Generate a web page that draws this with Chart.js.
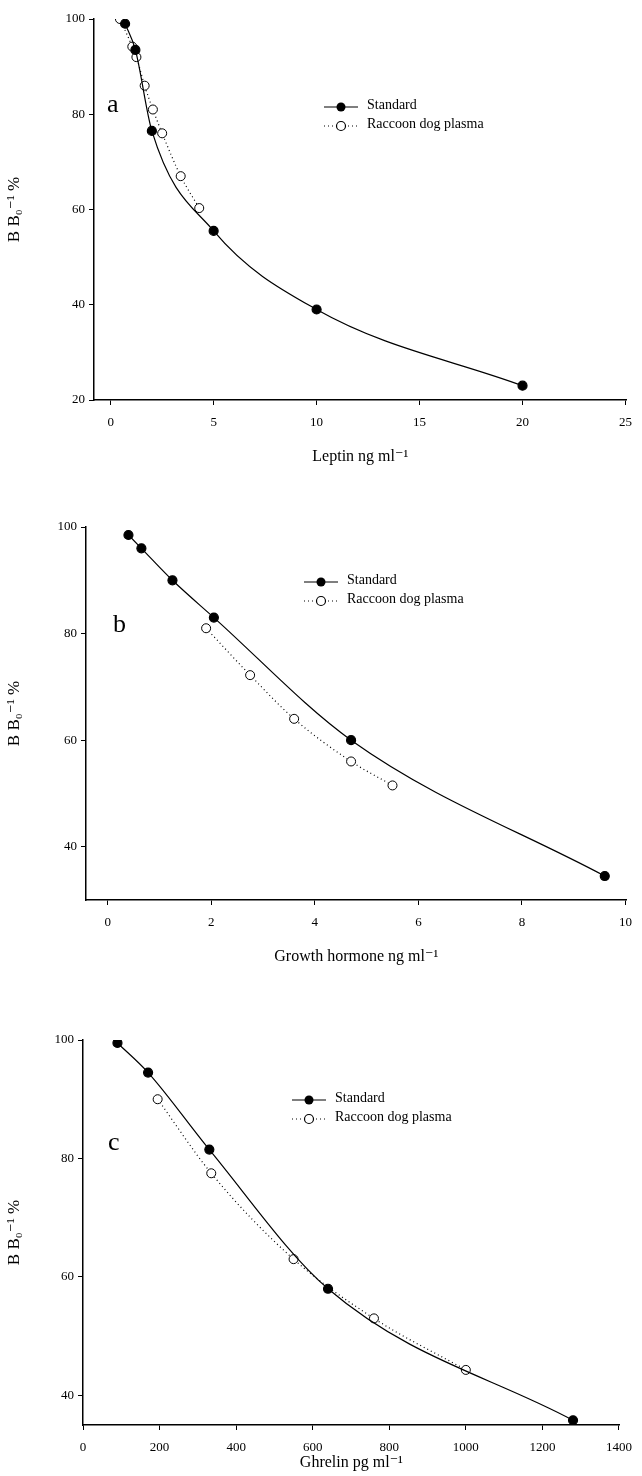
<!DOCTYPE html>
<html>
<head>
<meta charset="utf-8">
<script src="https://cdn.jsdelivr.net/npm/chart.js@4"></script>
<style>
  body { margin: 0; background: #fff; }
  .panel { position: absolute; left: 0; width: 642px; }
</style>
</head>
<body>
<div class="panel" style="top:0;height:470px"><canvas id="chartA"></canvas></div>
<div class="panel" style="top:470px;height:500px"><canvas id="chartB"></canvas></div>
<div class="panel" style="top:970px;height:506px"><canvas id="chartC"></canvas></div>
<script>
// panel a - leptin
const leptinStdX = [0.7, 1.2, 2.0, 5.0, 10, 20]
const leptinStdY = [99, 93.5, 76.5, 55.5, 39, 23]
const leptinRdX = [0.45, 1.05, 1.25, 1.65, 2.05, 2.5, 3.4, 4.3]
const leptinRdY = [100, 94.2, 92, 86, 81, 76, 67, 60.3]

// panel b - growth hormone
const ghStdX = [0.4, 0.65, 1.25, 2.05, 4.7, 9.6]
const ghStdY = [98.5, 96, 90, 83, 60, 34.5]
const ghRdX = [1.9, 2.75, 3.6, 4.7, 5.5]
const ghRdY = [81, 72.2, 64, 56, 51.5]

// panel c - ghrelin
const ghrStdX = [90, 170, 330, 640, 1280]
const ghrStdY = [99.5, 94.5, 81.5, 58, 35.8]
const ghrRdX = [195, 335, 550, 760, 1000]
const ghrRdY = [90, 77.5, 63, 53, 44.3]

const serif = '"Liberation Serif", "DejaVu Serif", serif'
const toPts = (xs, ys) => xs.map((x, i) => ({ x: x, y: ys[i] }))

const legendPlugin = {
	id: 'figLegend',
	afterDraw(chart, args, o) {
		const c = chart.ctx
		c.save()
		c.fillStyle = '#000'
		c.strokeStyle = '#000'
		c.font = '26px ' + serif
		c.textBaseline = 'middle'
		c.fillText(o.letter, o.lx, o.ly)
		c.font = '14px ' + serif
		// standard row
		c.lineWidth = 1.2
		c.setLineDash([])
		c.beginPath(); c.moveTo(o.x, o.y); c.lineTo(o.x + 34, o.y); c.stroke()
		c.beginPath(); c.arc(o.x + 17, o.y, 4.5, 0, Math.PI * 2); c.fill()
		c.fillText('Standard', o.x + 43, o.y - 2)
		// raccoon row
		const y2 = o.y + 19
		c.setLineDash([1, 3])
		c.beginPath(); c.moveTo(o.x, y2); c.lineTo(o.x + 34, y2); c.stroke()
		c.setLineDash([])
		c.fillStyle = '#fff'
		c.beginPath(); c.arc(o.x + 17, y2, 4.5, 0, Math.PI * 2); c.fill(); c.stroke()
		c.fillStyle = '#000'
		c.fillText('Raccoon dog plasma', o.x + 43, y2 - 2)
		c.restore()
	},
}

function makeChart(id, std, rd, cfg) {
	return new Chart(document.getElementById(id), {
		type: 'scatter',
		data: {
			datasets: [
				{
					label: 'Standard',
					data: std,
					showLine: true,
					cubicInterpolationMode: 'monotone',
					borderColor: '#000',
					borderWidth: 1.2,
					backgroundColor: '#000',
					pointRadius: 4.5,
					pointBorderColor: '#000',
					pointBackgroundColor: '#000',
				},
				{
					label: 'Raccoon dog plasma',
					data: rd,
					showLine: true,
					cubicInterpolationMode: 'monotone',
					borderColor: '#000',
					borderWidth: 1.2,
					borderDash: [1, 3],
					pointRadius: 4.5,
					pointBorderWidth: 1,
					pointBorderColor: '#000',
					pointBackgroundColor: '#fff',
				},
			],
		},
		options: {
			responsive: true,
			maintainAspectRatio: false,
			animation: false,
			layout: { padding: { top: cfg.padTop, right: cfg.padRight, left: 0, bottom: 0 } },
			plugins: {
				legend: { display: false },
				tooltip: { enabled: false },
				figLegend: cfg.legend,
			},
			scales: {
				x: {
					type: 'linear',
					min: cfg.xmin,
					max: cfg.xmax,
					afterBuildTicks: (s) => { s.ticks = cfg.xticks.map((v) => ({ value: v })) },
					afterFit: (s) => { s.height = cfg.xh },
					ticks: { color: '#000', font: { family: serif, size: 13 }, padding: 10, callback: (v) => String(v) },
					grid: { drawOnChartArea: false, drawTicks: true, tickLength: 5, color: '#000' },
					border: { color: '#000', width: 1.5 },
					title: { display: true, text: cfg.xtitle, color: '#000', font: { family: serif, size: 16 }, padding: { top: 10 } },
				},
				y: {
					min: cfg.ymin,
					max: 100,
					afterBuildTicks: (s) => { s.ticks = cfg.yticks.map((v) => ({ value: v })) },
					afterFit: (s) => { s.width = cfg.yw },
					ticks: { color: '#000', font: { family: serif, size: 13 }, padding: 4 },
					grid: { drawOnChartArea: false, drawTicks: true, tickLength: 5, color: '#000' },
					border: { color: '#000', width: 1.5 },
					title: { display: true, text: 'B B₀⁻¹ %', color: '#000', font: { family: serif, size: 17 } },
				},
			},
		},
		plugins: [legendPlugin],
	})
}

makeChart('chartA', toPts(leptinStdX, leptinStdY), toPts(leptinRdX, leptinRdY), {
	padTop: 19, padRight: 6, xh: 70, yw: 94,
	xmin: -0.81, xmax: 25.05, ymin: 20,
	xticks: [0, 5, 10, 15, 20, 25], yticks: [20, 40, 60, 80, 100],
	xtitle: 'Leptin ng ml⁻¹',
	legend: { letter: 'a', lx: 107, ly: 105, x: 324, y: 107 },
})

makeChart('chartB', toPts(ghStdX, ghStdY), toPts(ghRdX, ghRdY), {
	padTop: 57, padRight: 10, xh: 70, yw: 86,
	xmin: -0.42, xmax: 10.02, ymin: 30,
	xticks: [0, 2, 4, 6, 8, 10], yticks: [40, 60, 80, 100],
	xtitle: 'Growth hormone ng ml⁻¹',
	legend: { letter: 'b', lx: 113, ly: 155, x: 304, y: 112 },
})

makeChart('chartC', toPts(ghrStdX, ghrStdY), toPts(ghrRdX, ghrRdY), {
	padTop: 70, padRight: 15, xh: 51, yw: 83,
	xmin: 0, xmax: 1402, ymin: 35,
	xticks: [0, 200, 400, 600, 800, 1000, 1200, 1400], yticks: [40, 60, 80, 100],
	xtitle: 'Ghrelin pg ml⁻¹',
	legend: { letter: 'c', lx: 108, ly: 173, x: 292, y: 130 },
})
</script>
</body>
</html>
